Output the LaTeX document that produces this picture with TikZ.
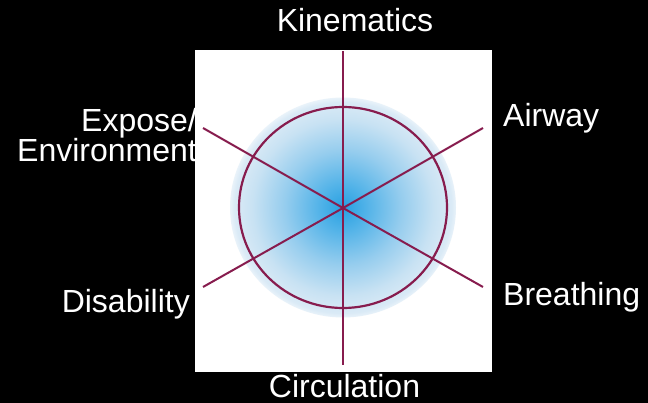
\documentclass[tikz,border=0pt]{standalone}
\usepackage{fontspec}
\setmainfont{Liberation Sans}
\usepackage{tikz}
\usetikzlibrary{positioning, calc}
\definecolor{spokered}{RGB}{135,28,78}
\definecolor{glowcore}{RGB}{40,160,225}
\definecolor{glowinner}{RGB}{80,178,232}
\definecolor{glowmid}{RGB}{150,205,238}
\definecolor{glowpale}{RGB}{200,226,243}
\definecolor{glowedge}{RGB}{218,234,246}
\pgfdeclareradialshading{hubglow}{\pgfpoint{0bp}{0bp}}{%
  color(0bp)=(glowcore); color(5bp)=(glowinner); color(13bp)=(glowmid);
  color(20bp)=(glowpale); color(24bp)=(glowedge); color(26.5bp)=(white); color(50bp)=(white)}
\tikzset{
  abclabel/.style={text=white, inner sep=0pt, font=\fontsize{32}{30}\selectfont},
  spoke/.style={draw=spokered, line width=2pt},
  ringline/.style={draw=spokered, line width=2.2pt}
}

\begin{document}
\begin{tikzpicture}[x=1pt, y=-1pt]
  \fill[black] (0,0) rectangle (648,403);
  \useasboundingbox (0,0) rectangle (648,403);
  % labels round the square
  \node[abclabel, anchor=base] (kin) at (355,32) {Kinematics};
  \node[abclabel, anchor=base west] (air) at (503,127) {Airway};
  \node[abclabel, anchor=base west] (bre) at (503,306) {Breathing};
  \node[abclabel, anchor=base] (cir) at (344.5,397) {Circulation};
  \node[abclabel, anchor=base east] (dis) at (190,313) {Disability};
  \node[abclabel, anchor=base east] (exp) at (197,132) {Expose/};
  \node[abclabel, anchor=base east] (env) at (197,162) {Environment};
  % picture
  \fill[white] (195,50) rectangle (492,372);
  \shade[shading=hubglow] (343,207.5) ellipse [x radius=113, y radius=110];
  \coordinate (hub) at (343,208);
  \coordinate (top) at (343,51);
  \coordinate (bot) at (343,365);
  \coordinate (ur) at (483,128);
  \coordinate (lr) at (483,287);
  \coordinate (ul) at (203,128);
  \coordinate (ll) at (203,287);
  \draw[ringline] (343,207.5) ellipse [x radius=104, y radius=100.5];
  \foreach \e in {top,bot,ur,lr,ul,ll}
    \draw[spoke] (hub) -- (\e);
\end{tikzpicture}
\end{document}
